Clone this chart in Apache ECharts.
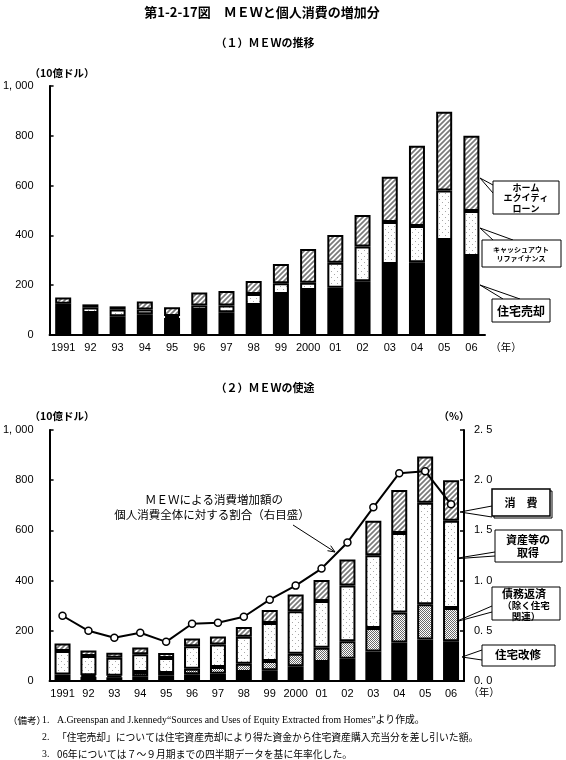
<!DOCTYPE html>
<html>
<head>
<meta charset="utf-8">
<script src="https://cdn.jsdelivr.net/npm/echarts@6/dist/echarts.min.js"></script>
<style>
  html, body { margin: 0; padding: 0; background: #fff; }
  #chart { width: 566px; height: 760px; }
</style>
</head>
<body>
<div id="chart"></div>
<script>
// --- data (10億ドル / %) ---
const years = ['1991', '92', '93', '94', '95', '96', '97', '98', '99', '2000', '01', '02', '03', '04', '05', '06'];

// (1) MEWの推移
const homeSales = [112, 88, 75, 83, 68, 100, 91, 120, 165, 181, 190, 216, 285, 292, 382, 317];
const cashOutRefi = [14, 22, 27, 19, 8, 18, 27, 45, 43, 29, 100, 139, 169, 146, 198, 181];
const homeEquityLoan = [25, 13, 13, 33, 35, 53, 59, 52, 77, 135, 112, 127, 182, 322, 317, 302];

// (2) MEWの使途
const renovation = [16, 17, 15, 19, 21, 27, 29, 36, 43, 59, 76, 89, 118, 153, 165, 158];
const debtRepay = [10, 6, 6, 17, 11, 22, 27, 33, 37, 50, 56, 69, 93, 120, 141, 133];
const assetPurchase = [94, 77, 72, 71, 60, 89, 89, 107, 151, 169, 187, 222, 290, 317, 404, 347];
const consumption = [29, 22, 20, 26, 20, 31, 32, 39, 52, 67, 83, 104, 137, 171, 184, 162];
const consumptionShare = [0.65, 0.50, 0.43, 0.48, 0.39, 0.57, 0.58, 0.64, 0.81, 0.95, 1.12, 1.38, 1.73, 2.07, 2.09, 1.76];

const leftTicks = [0, 200, 400, 600, 800, 1000];

const JP = '"Noto Sans CJK JP", sans-serif';
const LAT = '"Liberation Sans", Arial, sans-serif';

// fill patterns
function makePattern(size, draw) {
  const c = document.createElement('canvas');
  c.width = size; c.height = size;
  const g = c.getContext('2d');
  g.fillStyle = '#fff';
  g.fillRect(0, 0, size, size);
  draw(g, size);
  return { image: c, repeat: 'repeat' };
}
const hatch = makePattern(5, (g, s) => {
  g.strokeStyle = '#7a7a7a';
  g.lineWidth = 1.7;
  g.beginPath();
  g.moveTo(-1, s + 1); g.lineTo(s + 1, -1);
  g.moveTo(-1, 1); g.lineTo(1, -1);
  g.moveTo(s - 1, s + 1); g.lineTo(s + 1, s - 1);
  g.stroke();
});
const sparseDots = makePattern(6, (g) => {
  g.fillStyle = '#a8a8a8';
  g.fillRect(1, 1, 1, 1);
  g.fillRect(4, 4, 1, 1);
});
const denseDots = makePattern(2, (g) => {
  g.fillStyle = '#6a6a6a';
  g.fillRect(0, 0, 1, 1);
  g.fillRect(1, 1, 1, 1);
});

function barSeries(name, data, fill, xi, yi) {
  return {
    name, type: 'bar', stack: 's' + xi, data,
    xAxisIndex: xi, yAxisIndex: yi,
    barWidth: 16,
    itemStyle: { color: fill, borderColor: '#000', borderWidth: 2 },
    animation: false,
  };
}

const leftAxisLabel = {
  color: '#000', fontSize: 11, fontFamily: LAT, margin: 16,
  formatter: (v) => (v === 1000 ? '1, 000' : String(v)),
};

const chart = echarts.init(document.getElementById('chart'), null, { renderer: 'canvas' });

function txt(text, x, y, size, opts = {}) {
  return {
    type: 'text', x, y, silent: true,
    style: {
      text, fill: '#000',
      font: `${opts.weight || 'normal'} ${size}px ${opts.family || JP}`,
      textAlign: opts.align || 'center', textVerticalAlign: 'middle',
      lineHeight: opts.lineHeight,
    },
  };
}
function box(x, y, w, h, lw = 1) {
  return { type: 'rect', shape: { x, y, width: w, height: h }, style: { fill: '#fff', stroke: '#000', lineWidth: lw } };
}
function lines(points) {
  return { type: 'polyline', shape: { points }, style: { stroke: '#000', lineWidth: 1, fill: null } };
}

chart.setOption({
  backgroundColor: '#fff',
  animation: false,
  grid: [
    { left: 49, top: 86, width: 436, height: 249 },
    { left: 49, top: 430, width: 415, height: 251 },
  ],
  xAxis: [
    {
      type: 'category', gridIndex: 0, data: years,
      axisLine: { lineStyle: { color: '#000', width: 2 } },
      axisTick: { show: false },
      axisLabel: { color: '#000', fontSize: 11, fontFamily: LAT, margin: 7, interval: 0 },
    },
    {
      type: 'category', gridIndex: 1, data: years,
      axisLine: { lineStyle: { color: '#000', width: 2 } },
      axisTick: { show: false },
      axisLabel: { color: '#000', fontSize: 11, fontFamily: LAT, margin: 7, interval: 0 },
    },
  ],
  yAxis: [
    {
      type: 'value', gridIndex: 0, min: leftTicks[0], max: leftTicks[leftTicks.length - 1], interval: 200,
      axisLine: { show: true, lineStyle: { color: '#000', width: 2 } },
      axisTick: { show: true, inside: true, length: 4, lineStyle: { color: '#000', width: 1.5 } },
      splitLine: { show: false },
      axisLabel: leftAxisLabel,
    },
    {
      type: 'value', gridIndex: 1, min: 0, max: 1000, interval: 200,
      axisLine: { show: true, lineStyle: { color: '#000', width: 2 } },
      axisTick: { show: true, inside: true, length: 4, lineStyle: { color: '#000', width: 1.5 } },
      splitLine: { show: false },
      axisLabel: leftAxisLabel,
    },
    {
      type: 'value', gridIndex: 1, position: 'right', min: 0, max: 2.5, interval: 0.5,
      axisLine: { show: true, lineStyle: { color: '#000', width: 2 } },
      axisTick: { show: true, inside: true, length: 4, lineStyle: { color: '#000', width: 1.5 } },
      splitLine: { show: false },
      axisLabel: {
        color: '#000', fontSize: 11, fontFamily: LAT, margin: 10,
        formatter: (v) => v.toFixed(1).replace('.', '. '),
      },
    },
  ],
  series: [
    barSeries('住宅売却', homeSales, '#000', 0, 0),
    barSeries('キャッシュアウトリファイナンス', cashOutRefi, sparseDots, 0, 0),
    barSeries('ホームエクイティローン', homeEquityLoan, hatch, 0, 0),

    barSeries('住宅改修', renovation, '#000', 1, 1),
    barSeries('債務返済（除く住宅関連）', debtRepay, denseDots, 1, 1),
    barSeries('資産等の取得', assetPurchase, sparseDots, 1, 1),
    barSeries('消費', consumption, hatch, 1, 1),
    {
      name: '割合', type: 'line', xAxisIndex: 1, yAxisIndex: 2, data: consumptionShare,
      symbol: 'circle', symbolSize: 7, z: 5,
      lineStyle: { color: '#000', width: 2 },
      itemStyle: { color: '#fff', borderColor: '#000', borderWidth: 1.5 },
      animation: false,
    },
  ],
  graphic: [
    txt('第1-2-17図　ＭＥＷと個人消費の増加分', 262, 12, 13, { weight: 'bold' }),
    txt('（１）ＭＥＷの推移', 265, 43, 11, { weight: 'bold' }),
    txt('（10億ドル）', 62, 73, 10.5, { weight: 'bold' }),
    txt('（年）', 506, 347, 10.5),

    // legend callouts, panel 1
    lines([[493, 185], [480, 178], [493, 193]]),
    box(493, 181, 66, 33),
    txt('ホーム\nエクイティ\nローン', 526, 198, 9, { weight: 'bold', lineHeight: 10.5 }),
    lines([[493, 240], [480, 228], [513, 240]]),
    box(482, 240, 79, 27),
    txt('キャッシュアウト\nリファイナンス', 521, 254, 7, { weight: 'bold', lineHeight: 9 }),
    lines([[503, 299], [480, 285], [520, 299]]),
    box(492, 299, 58, 23),
    txt('住宅売却', 521, 311, 12, { weight: 'bold' }),

    txt('（２）ＭＥＷの使途', 265, 388, 11, { weight: 'bold' }),
    txt('（10億ドル）', 62, 416, 10.5, { weight: 'bold' }),
    txt('（%）', 454, 416, 10.5, { weight: 'bold' }),
    txt('（年）', 484, 692, 10.5),

    txt('ＭＥＷによる消費増加額の', 214, 500, 11.5),
    txt('個人消費全体に対する割合（右目盛）', 212, 515, 11.5),
    lines([[293, 525], [335, 552]]),
    lines([[327.5, 550.7], [335, 552], [330.7, 545.7]]),

    // legend callouts, panel 2
    lines([[492, 506], [460, 512], [492, 517]]),
    box(494, 491, 58, 27, 1),
    box(492, 489, 58, 27, 1.5),
    txt('消　費', 521, 503, 11, { weight: 'bold' }),
    lines([[495, 552], [452, 559], [495, 556]]),
    box(495, 530, 67, 32),
    txt('資産等の\n取得', 528, 546, 11, { weight: 'bold', lineHeight: 13 }),
    lines([[492, 606], [455, 622], [492, 612]]),
    box(492, 587, 68, 33),
    txt('債務返済', 524, 594, 11, { weight: 'bold' }),
    txt('（除く住宅\n関連）', 526, 611, 9.5, { weight: 'bold', lineHeight: 11 }),
    lines([[482, 650], [462, 657], [482, 660]]),
    box(482, 645, 73, 21),
    txt('住宅改修', 518, 655, 11.5, { weight: 'bold' }),

    // notes
    txt('（備考）', 8, 720, 9.5, { align: 'left' }),
    txt('1.', 42, 720, 9.8, { align: 'left', family: '"Liberation Serif", serif' }),
    txt('A.Greenspan and J.kennedy“Sources and Uses of Equity Extracted from Homes”より作成。', 57, 720, 9.8,
      { align: 'left', family: `"Liberation Serif", ${JP}` }),
    txt('2.', 42, 737, 9.8, { align: 'left', family: '"Liberation Serif", serif' }),
    txt('「住宅売却」については住宅資産売却により得た資金から住宅資産購入充当分を差し引いた額。', 57, 737, 9.8, { align: 'left' }),
    txt('3.', 42, 754, 9.8, { align: 'left', family: '"Liberation Serif", serif' }),
    txt('06年については７～９月期までの四半期データを基に年率化した。', 57, 754, 9.8, { align: 'left' }),
  ],
});
</script>
</body>
</html>
